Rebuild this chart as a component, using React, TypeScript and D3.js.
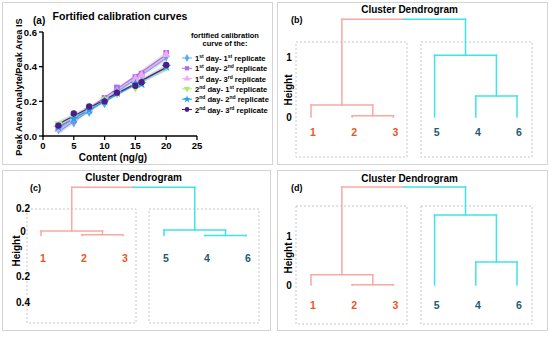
import React from "react";
import * as d3 from "d3";

// ---------- Panel (a) data ----------
const contents = [2.5, 5, 7.5, 10, 12, 15, 16, 20];
const seriesNames = [
  ["1", "st", " day- 1", "st", " replicate"],
  ["1", "st", " day- 2", "nd", " replicate"],
  ["1", "st", " day- 3", "rd", " replicate"],
  ["2", "nd", " day- 1", "st", " replicate"],
  ["2", "nd", " day- 2", "nd", " replicate"],
  ["2", "nd", " day- 3", "rd", " replicate"],
];
const s1 = [0.04, 0.08, 0.14, 0.19, 0.25, 0.33, 0.35, 0.46];
const s2 = [0.05, 0.09, 0.15, 0.22, 0.28, 0.34, 0.36, 0.48];
const s3 = [0.04, 0.1, 0.15, 0.21, 0.26, 0.33, 0.35, 0.47];
const s4 = [0.07, 0.11, 0.16, 0.21, 0.25, 0.28, 0.31, 0.4];
const s5 = [0.05, 0.1, 0.15, 0.2, 0.25, 0.3, 0.3, 0.4];
const s6 = [0.06, 0.13, 0.17, 0.2, 0.25, 0.29, 0.31, 0.41];
const seriesValues = [s1, s2, s3, s4, s5, s6];
const seriesColors = ["#5aaaf0", "#a670e8", "#f5a6f0", "#a6ec74", "#1fa4e8", "#4a1c8c"];
const seriesShapes = [d3.symbolDiamond, d3.symbolSquare, d3.symbolTriangle, d3.symbolTriangle, d3.symbolStar, d3.symbolCircle];
const xTicksA = [0, 5, 10, 15, 20, 25];
const yTicksA = [0, 0.2, 0.4, 0.6];

// ---------- Dendrogram data ----------
const leafOrder = ["1", "2", "3", "5", "4", "6"];
const leafCluster = { "1": 0, "2": 0, "3": 0, "4": 1, "5": 1, "6": 1 } as Record<string, number>;
// merges: negative = leaf label, positive = earlier merge (1-based)
const merges = [
  [-2, -3],
  [-1, 1],
  [-4, -6],
  [-5, 3],
  [2, 4],
];
const heightsB = [0.02, 0.2, 0.35, 1.03, 1.63];
const heightsC = [0.007, 0.039, 0.0, 0.048, 0.419];
const heightsD = [0.005, 0.21, 0.47, 1.43, 2.0];
const ticksB = ["1", "0"];
const ticksBVals = [1, 0];
const ticksCVals = [0.2, 0, -0.2, -0.4];
const ticksCLabels = ["0.2", "0", "0.2", "0.4"];
const ticksD = ["1", "0"];
const ticksDVals = [1, 0];

const clusterLine = ["#f8a9a2", "#3fe3ea"];
const clusterLabel = ["#e8561f", "#1d5b78"];
const FONT = "'Liberation Sans', Arial, sans-serif";

function regression(xs: number[], ys: number[]) {
  const n = xs.length;
  const mx = d3.mean(xs)!;
  const my = d3.mean(ys)!;
  let sxx = 0, sxy = 0;
  xs.forEach((x, i) => { sxx += (x - mx) ** 2; sxy += (x - mx) * (ys[i] - my); });
  const b = sxy / sxx;
  const a = my - b * mx;
  let sse = 0;
  xs.forEach((x, i) => { sse += (ys[i] - (a + b * x)) ** 2; });
  const s = Math.sqrt(sse / (n - 2));
  return { a, b, s, mx, sxx, n };
}

function PanelA() {
  const x = d3.scaleLinear().domain([0, 25]).range([43, 197]);
  const y = d3.scaleLinear().domain([0, 0.6]).range([136, 32]);
  const xs = d3.range(2.5, 20.01, 0.5);
  return (
    <g fontFamily={FONT} fontWeight="bold">
      <rect x={2.5} y={2.5} width={270} height={162} fill="white" stroke="#d4d4d4" />
      <text x={33} y={24} fontSize={10}>(a)</text>
      <text x={120} y={20} fontSize={10.5} textAnchor="middle">Fortified calibration curves</text>
      {/* bands */}
      {seriesValues.map((vals, i) => {
        const r = regression(contents, vals);
        const t = 2.45;
        const area = d3.area<number>()
          .x((d) => x(d))
          .y0((d) => y(r.a + r.b * d - t * r.s * Math.sqrt(1 / r.n + (d - r.mx) ** 2 / r.sxx)))
          .y1((d) => y(r.a + r.b * d + t * r.s * Math.sqrt(1 / r.n + (d - r.mx) ** 2 / r.sxx)));
        return <path key={"b" + i} d={area(xs)!} fill="#b0b0b0" fillOpacity={0.3} />;
      })}
      {seriesValues.map((vals, i) => {
        const r = regression(contents, vals);
        return (
          <line key={"l" + i} x1={x(2.5)} x2={x(20)} y1={y(r.a + r.b * 2.5)} y2={y(r.a + r.b * 20)}
            stroke={seriesColors[i]} strokeWidth={1.2} />
        );
      })}
      {seriesValues.map((vals, i) =>
        vals.map((v, j) => (
          <path key={"p" + i + "-" + j}
            d={d3.symbol().type(seriesShapes[i]).size(32)()!}
            transform={`translate(${x(contents[j])},${y(v)})${i === 3 ? " rotate(180)" : ""}`}
            fill={seriesColors[i]} />
        ))
      )}
      {/* axes */}
      <line x1={43} x2={43} y1={y(0.6)} y2={137} stroke="black" strokeWidth={1.5} />
      <line x1={42} x2={x(25)} y1={136} y2={136} stroke="black" strokeWidth={1.5} />
      {yTicksA.map((t) => (
        <g key={"yt" + t}>
          <line x1={39} x2={43} y1={y(t)} y2={y(t)} stroke="black" strokeWidth={1.3} />
          <text x={37} y={y(t) + 3.5} fontSize={9.5} textAnchor="end">{d3.format(".1f")(t)}</text>
        </g>
      ))}
      {xTicksA.map((t) => (
        <g key={"xt" + t}>
          <line x1={x(t)} x2={x(t)} y1={136} y2={140} stroke="black" strokeWidth={1.3} />
          <text x={x(t)} y={149} fontSize={9.5} textAnchor="middle">{t}</text>
        </g>
      ))}
      <text x={113} y={161} fontSize={10} textAnchor="middle">Content (ng/g)</text>
      <text transform={`translate(22,${(y(0) + y(0.6)) / 2 + 3}) rotate(-90)`} fontSize={9.2} textAnchor="middle">
        Peak Area Analyte/Peak Area IS
      </text>
      {/* legend */}
      <text x={225} y={38} fontSize={7.5} textAnchor="middle">fortified calibration</text>
      <text x={225} y={46} fontSize={7.5} textAnchor="middle">curve of the:</text>
      {seriesNames.map((nm, i) => {
        const ly = 58 + i * 10.3;
        return (
          <g key={"lg" + i}>
            <line x1={182} x2={192} y1={ly} y2={ly} stroke={seriesColors[i]} strokeWidth={1} />
            <path d={d3.symbol().type(seriesShapes[i]).size(18)()!}
              transform={`translate(187,${ly})${i === 3 ? " rotate(180)" : ""}`} fill={seriesColors[i]} />
            <text x={195} y={ly + 3} fontSize={7.6}>
              {nm[0]}
              <tspan fontSize={5} dy={-3}>{nm[1]}</tspan>
              <tspan dy={3}>{nm[2]}</tspan>
              <tspan fontSize={5} dy={-3}>{nm[3]}</tspan>
              <tspan dy={3}>{nm[4]}</tspan>
            </text>
          </g>
        );
      })}
    </g>
  );
}

type DendroProps = {
  letter: string;
  heights: number[];
  box: { x: number; y: number; w: number; h: number };
  titleY: number;
  letterPos: [number, number];
  yScale: d3.ScaleLinear<number, number>;
  leafRange: [number, number];
  tickVals: number[];
  tickLabels: string[];
  tickScale: d3.ScaleLinear<number, number>;
  tickX: number;
  heightLabel: [number, number];
  leafLabelY: number;
  dashedY: [number, number];
  dashedX: [number, number, number, number];
};

function Dendrogram(p: DendroProps) {
  const xLeaf = d3.scalePoint<string>().domain(leafOrder).range(p.leafRange);
  const nodes: { x: number; h: number; cluster: number }[] = [];
  const getNode = (id: number) => {
    if (id < 0) {
      const lab = String(-id);
      return { x: xLeaf(lab)!, h: 0, cluster: leafCluster[lab] };
    }
    return nodes[id - 1];
  };
  const segs: { x1: number; y1: number; x2: number; y2: number; c: string }[] = [];
  merges.forEach(([a, b], i) => {
    const na = getNode(a);
    const nb = getNode(b);
    const h = p.heights[i];
    const mid = (na.x + nb.x) / 2;
    const cl = na.cluster === nb.cluster ? na.cluster : -1;
    const ca = clusterLine[na.cluster];
    const cb = clusterLine[nb.cluster];
    segs.push({ x1: na.x, y1: p.yScale(na.h), x2: na.x, y2: p.yScale(h), c: ca });
    segs.push({ x1: nb.x, y1: p.yScale(nb.h), x2: nb.x, y2: p.yScale(h), c: cb });
    if (cl >= 0) {
      segs.push({ x1: na.x, y1: p.yScale(h), x2: nb.x, y2: p.yScale(h), c: ca });
    } else {
      segs.push({ x1: na.x, y1: p.yScale(h), x2: mid, y2: p.yScale(h), c: ca });
      segs.push({ x1: mid, y1: p.yScale(h), x2: nb.x, y2: p.yScale(h), c: cb });
    }
    nodes.push({ x: mid, h, cluster: cl >= 0 ? cl : 0 });
  });
  const cx = (p.box.x + p.box.x + p.box.w) / 2;
  return (
    <g fontFamily={FONT} fontWeight="bold">
      <rect x={p.box.x} y={p.box.y} width={p.box.w} height={p.box.h} fill="white" stroke="#d4d4d4" />
      <rect x={p.dashedX[0]} y={p.dashedY[0]} width={p.dashedX[1] - p.dashedX[0]} height={p.dashedY[1] - p.dashedY[0]}
        fill="none" stroke="#c6c6c6" strokeDasharray="2,2" />
      <rect x={p.dashedX[2]} y={p.dashedY[0]} width={p.dashedX[3] - p.dashedX[2]} height={p.dashedY[1] - p.dashedY[0]}
        fill="none" stroke="#c6c6c6" strokeDasharray="2,2" />
      <text x={cx - 3} y={p.titleY} fontSize={10} textAnchor="middle">Cluster Dendrogram</text>
      <text x={p.letterPos[0]} y={p.letterPos[1]} fontSize={9}>{"(" + p.letter + ")"}</text>
      {segs.map((s, i) => (
        <line key={i} x1={s.x1} y1={s.y1} x2={s.x2} y2={s.y2} stroke={s.c} strokeWidth={1.5} strokeLinecap="square" />
      ))}
      {leafOrder.map((l) => (
        <text key={l} x={xLeaf(l)! + 2} y={p.leafLabelY} fontSize={10.5} textAnchor="middle" fill={clusterLabel[leafCluster[l]]}>
          {l}
        </text>
      ))}
      {p.tickVals.map((t, i) => (
        <text key={"t" + i} x={p.tickX} y={p.tickScale(t) + 3.5} fontSize={10} textAnchor="middle">{p.tickLabels[i]}</text>
      ))}
      <text transform={`translate(${p.heightLabel[0]},${p.heightLabel[1]}) rotate(-90)`} fontSize={10} textAnchor="middle">
        Height
      </text>
    </g>
  );
}

export default function App() {
  const yB = d3.scaleLinear().domain([0, 1]).range([117, 57]);
  const yC = d3.scaleLinear().domain([0, 1]).range([235.5, 120.5]);
  const tC = d3.scaleLinear().domain([0.2, 0, -0.2, -0.4]).range([208, 231, 276, 302]);
  const yD = d3.scaleLinear().domain([0, 1]).range([285, 236]);
  return (
    <svg width={550} height={337} style={{ position: "absolute", left: 0, top: 0, background: "white" }}>
      <rect width={550} height={337} fill="white" />
      <PanelA />
      <Dendrogram letter="b" heights={heightsB} box={{ x: 277.5, y: 2.5, w: 270, h: 162 }} titleY={13}
        letterPos={[291, 23]} yScale={yB} leafRange={[311, 517]}
        tickVals={ticksBVals} tickLabels={ticksB} tickScale={yB} tickX={289} heightLabel={[292, 90]}
        leafLabelY={136} dashedY={[42, 157]} dashedX={[296, 407, 421, 532]} />
      <Dendrogram letter="c" heights={heightsC} box={{ x: 2.5, y: 170.5, w: 268, h: 160 }} titleY={181}
        letterPos={[30, 191]} yScale={yC} leafRange={[41, 246]}
        tickVals={ticksCVals} tickLabels={ticksCLabels} tickScale={tC} tickX={23} heightLabel={[20, 251]}
        leafLabelY={262} dashedY={[209, 323]} dashedX={[27, 136, 149, 259]} />
      <Dendrogram letter="d" heights={heightsD} box={{ x: 277.5, y: 170.5, w: 270, h: 160 }} titleY={182}
        letterPos={[291, 191]} yScale={yD} leafRange={[311, 517]}
        tickVals={ticksDVals} tickLabels={ticksD} tickScale={yD} tickX={289} heightLabel={[292, 258]}
        leafLabelY={309} dashedY={[206, 324]} dashedX={[296, 407, 421, 532]} />
    </svg>
  );
}
